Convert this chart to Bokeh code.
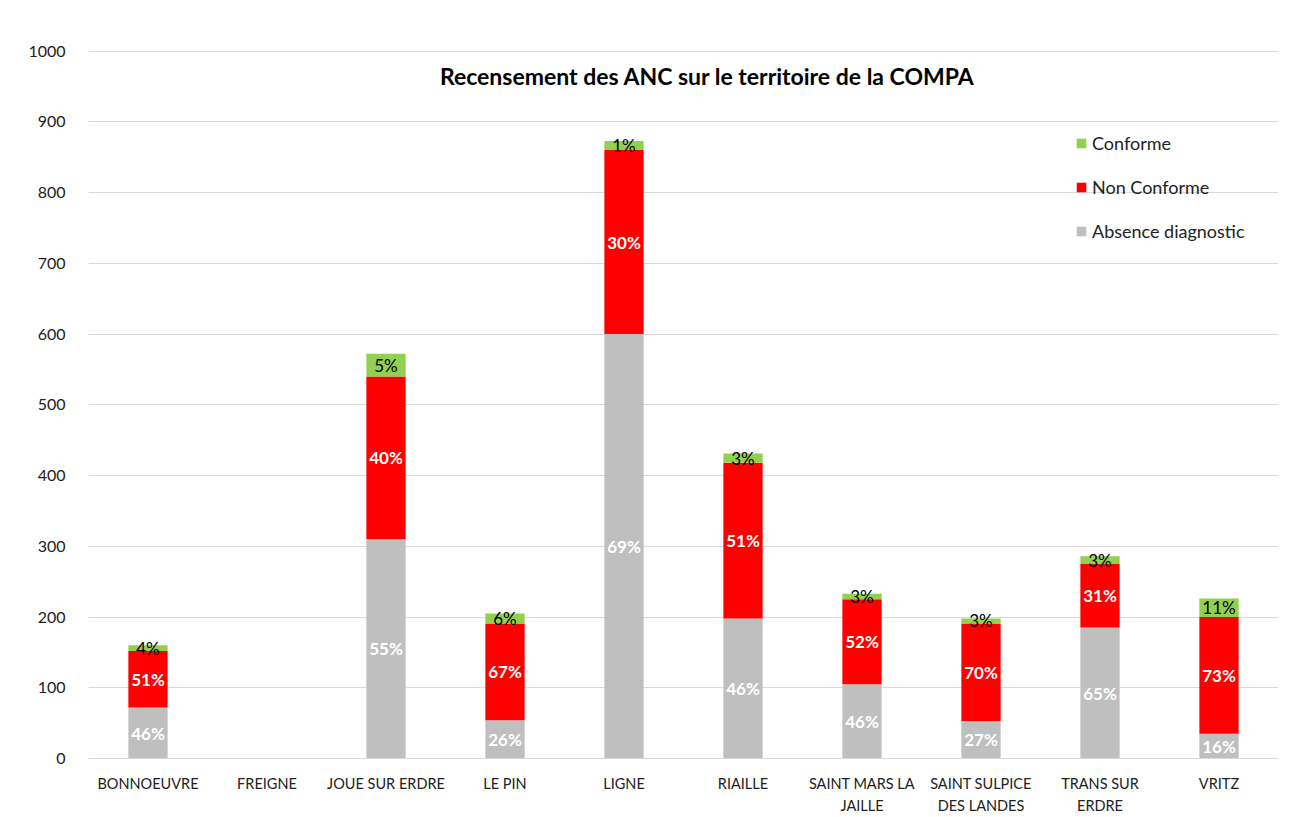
from bokeh.plotting import figure
from bokeh.models import (ColumnDataSource, Range1d, FixedTicker, Legend, LegendItem, Label)
from bokeh.core.properties import value
from bokeh.embed import file_html
from bokeh.resources import INLINE

communes = ["BONNOEUVRE", "FREIGNE", "JOUE SUR ERDRE", "LE PIN", "LIGNE", "RIAILLE",
            "SAINT MARS LA\nJAILLE", "SAINT SULPICE\nDES LANDES", "TRANS SUR\nERDRE", "VRITZ"]
absence = [72, 0, 310, 54, 600, 198, 105, 53, 185, 35]
non_conforme = [80, 0, 230, 137, 260, 220, 120, 138, 90, 165]
conforme = [8, 0, 32, 14, 13, 13, 8, 7, 11, 26]
lbl_absence = ["46%", "0%", "55%", "26%", "69%", "46%", "46%", "27%", "65%", "16%"]
lbl_non = ["51%", "0%", "40%", "67%", "30%", "51%", "52%", "70%", "31%", "73%"]
lbl_conf = ["4%", "", "5%", "6%", "1%", "3%", "3%", "3%", "3%", "11%"]
y_ticks = [0, 100, 200, 300, 400, 500, 600, 700, 800, 900, 1000]
title_text = "Recensement des ANC sur le territoire de la COMPA"

GREY = "#bfbfbf"
RED = "#ff0000"
GREEN = "#92d050"
FONT = "Lato"

xs = list(range(len(communes)))
src = ColumnDataSource(dict(x=xs, absence=absence, non=non_conforme, conf=conforme))

p = figure(width=1296, height=817, output_backend="svg", toolbar_location=None,
           x_range=Range1d(-0.5, len(communes) - 0.5), y_range=Range1d(0, 1000.8),
           min_border_left=88, min_border_top=50, min_border_right=18, min_border_bottom=59)
p.outline_line_color = None
p.xgrid.grid_line_color = None
p.ygrid.grid_line_color = "#d9d9d9"
p.ygrid.grid_line_width = 1

rs = p.vbar_stack(["absence", "non", "conf"], x="x", width=0.33, source=src,
                  color=[GREY, RED, GREEN], line_color=None)

# segment label positions
mid_abs, mid_non, mid_conf = [], [], []
for a, n, c in zip(absence, non_conforme, conforme):
    mid_abs.append(a / 2)
    mid_non.append(a + n / 2)
    mid_conf.append(a + n + c / 2)

lsrc_w = ColumnDataSource(dict(x=xs + xs, y=mid_abs + mid_non, t=lbl_absence + lbl_non))
lsrc_b = ColumnDataSource(dict(x=xs, y=mid_conf, t=lbl_conf))
p.text(x="x", y="y", text="t", source=lsrc_w, text_align="center", text_baseline="middle",
       text_font=value(FONT), text_font_style="bold", text_font_size="17px", text_color="white")
p.text(x="x", y="y", text="t", source=lsrc_b, text_align="center", text_baseline="middle",
       text_font=value(FONT), text_font_size="17px", text_color="black")

# axes
p.xaxis.ticker = FixedTicker(ticks=xs)
p.xaxis.major_label_overrides = {i: c for i, c in enumerate(communes)}
p.xaxis.major_tick_line_color = None
p.xaxis.minor_tick_line_color = None
p.xaxis.axis_line_color = "#d9d9d9"
p.xaxis.major_label_text_font = FONT
p.xaxis.major_label_text_font_size = "14.5px"
p.xaxis.major_label_text_color = "#222222"
p.xaxis.major_label_text_line_height = 1.3
p.xaxis.major_label_standoff = 10

p.yaxis.ticker = FixedTicker(ticks=y_ticks)
p.yaxis.major_tick_line_color = None
p.yaxis.minor_tick_line_color = None
p.yaxis.axis_line_color = None
p.yaxis.major_label_text_font = FONT
p.yaxis.major_label_text_font_size = "16px"
p.yaxis.major_label_text_color = "#222222"
p.yaxis.major_label_standoff = 17

legend = Legend(items=[LegendItem(label="Conforme", renderers=[rs[2]]),
                       LegendItem(label="Non Conforme", renderers=[rs[1]]),
                       LegendItem(label="Absence diagnostic", renderers=[rs[0]])],
                location=(987, 516), glyph_width=12, glyph_height=12, label_height=20,
                spacing=22, padding=0, margin=0, label_standoff=5,
                background_fill_alpha=0, border_line_color=None,
                label_text_font=FONT, label_text_font_size="18px", label_text_color="#222222")
p.add_layout(legend)

title = Label(x=619, y=683, x_units="screen", y_units="screen", text=title_text,
              text_align="center", text_baseline="middle", text_font=FONT,
              text_font_style="bold", text_font_size="23px", text_color="black")
p.add_layout(title)

open("out.html", "w").write(file_html(p, INLINE))
